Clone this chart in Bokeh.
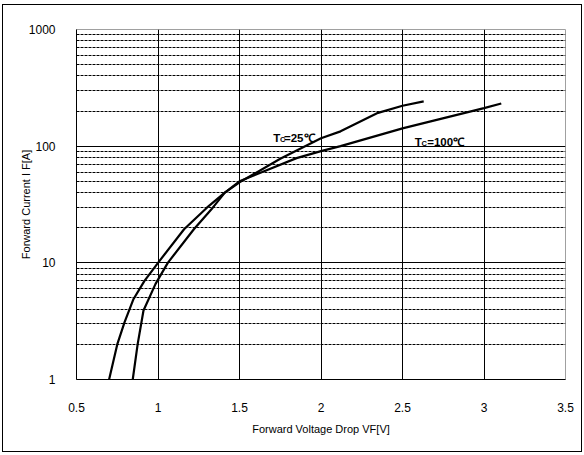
from bokeh.plotting import figure
from bokeh.models import FixedTicker, Label, CustomJSTickFormatter
from bokeh.embed import file_html
from bokeh.resources import INLINE

# ---- data ----
v_25 = [0.70, 0.75, 0.795, 0.85, 0.917, 1.0, 1.16, 1.30, 1.41, 1.5, 1.75, 2.0, 2.12, 2.35, 2.5, 2.63]
i_25 = [1, 2, 3.1, 4.9, 7.0, 10, 19.4, 29.7, 40, 49, 78, 117, 134, 193, 222, 242]

v_100 = [0.845, 0.875, 0.911, 0.985, 1.06, 1.22, 1.336, 1.41, 1.5, 1.85, 2.0, 2.12, 2.5, 3.0, 3.106]
i_100 = [1, 2, 3.9, 6.6, 10, 19.4, 29.7, 40, 50, 79, 90.7, 100, 142, 212, 232]

x_ticks = [0.5, 1, 1.5, 2, 2.5, 3, 3.5]
x_grid = [1, 1.5, 2, 2.5, 3]
y_ticks = [1, 10, 100, 1000]
y_grid = [10, 100]
y_minor = [m * d for d in (1, 10, 100) for m in range(2, 10)]

x_title = "Forward Voltage Drop VF[V]"
y_title = "Forward Current I F[A]"

FONT = "Liberation Sans"

p = figure(frame_width=489, frame_height=350,
           min_border_left=73, min_border_right=16,
           min_border_top=24, min_border_bottom=72,
           x_range=(0.5, 3.5), y_range=(1, 1000), y_axis_type="log",
           output_backend="svg", toolbar_location=None)
p.styles = {"margin-left": "3px", "margin-top": "5px",
            "outline": "1px solid black", "outline-offset": "0px"}

p.background_fill_color = "white"
p.border_fill_color = "white"
p.outline_line_color = "#a0a0a0"
p.outline_line_width = 1

# axes
p.xaxis.ticker = FixedTicker(ticks=x_ticks)
p.yaxis.ticker = FixedTicker(ticks=y_ticks)
for ax in (p.xaxis, p.yaxis):
    ax.axis_line_color = "black"
    ax.major_tick_line_color = None
    ax.minor_tick_line_color = None
    ax.major_tick_out = 0
    ax.major_tick_in = 0
    ax.major_label_text_font = FONT
    ax.major_label_text_font_size = "12px"
    ax.major_label_text_color = "black"
    ax.axis_label_text_font = FONT
    ax.axis_label_text_font_size = "11px"
    ax.axis_label_text_font_style = "normal"
    ax.axis_label_text_color = "black"
p.xaxis.major_label_standoff = 23
p.yaxis.major_label_standoff = 21
p.xaxis.axis_label = x_title
p.xaxis.axis_label_standoff = 8
p.yaxis.axis_label = y_title
p.yaxis.axis_label_standoff = -6
p.yaxis.formatter = CustomJSTickFormatter(code="return String(Math.round(tick));")

# grids
p.xgrid.ticker = FixedTicker(ticks=x_grid)
p.xgrid.grid_line_color = "black"
p.xgrid.grid_line_width = 1
p.ygrid.ticker = FixedTicker(ticks=y_grid, minor_ticks=y_minor)
p.ygrid.grid_line_color = "black"
p.ygrid.grid_line_width = 1
p.ygrid.minor_grid_line_color = "black"
p.ygrid.minor_grid_line_dash = "3 1"
p.ygrid.minor_grid_line_width = 1

# curves
p.line(v_25, i_25, line_color="black", line_width=2.2)
p.line(v_100, i_100, line_color="black", line_width=2.2)

# curve labels: T, subscript C, rest
def curve_label(xs, ys, rest):
    p.add_layout(Label(x=xs[0], y=ys[0], text="T", text_font=FONT,
                       text_font_size="11.5px", text_font_style="bold",
                       text_baseline="alphabetic", text_color="black"))
    p.add_layout(Label(x=xs[1], y=ys[1], text="C", text_font=FONT,
                       text_font_size="7.5px", text_font_style="bold",
                       text_baseline="alphabetic", text_color="black"))
    p.add_layout(Label(x=xs[2], y=ys[0], text=rest, text_font=FONT,
                       text_font_size="11.5px", text_font_style="bold",
                       text_baseline="alphabetic", text_color="black"))

curve_label([1.707, 1.749, 1.773], [117, 113.6], "=25\u2103")
curve_label([2.5755, 2.6166, 2.6515], [108, 105], "=100\u2103")

open("out.html", "w").write(file_html(p, INLINE))
